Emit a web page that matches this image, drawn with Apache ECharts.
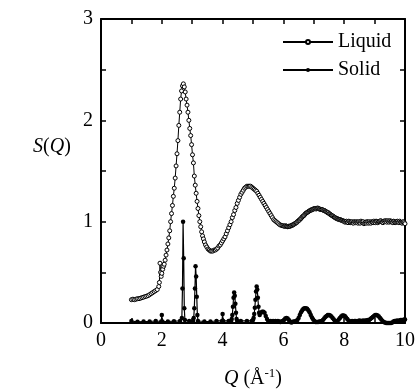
<!DOCTYPE html>
<html><head><meta charset="utf-8">
<script src="https://cdn.jsdelivr.net/npm/echarts@6/dist/echarts.min.js"></script>
<style>html,body{margin:0;padding:0;background:#fff}#c{width:420px;height:392px}</style>
</head><body><div id="c"></div>
<script>
const xTickLabels = [0, 2, 4, 6, 8, 10];
const yTickLabels = [0, 1, 2, 3];
const seriesNames = ['Liquid', 'Solid'];

const liquidPoints = [
[1.00,0.23],[1.05,0.235],[1.10,0.23],[1.15,0.235],[1.20,0.24],[1.25,0.24],[1.30,0.245],[1.35,0.25],[1.40,0.255],[1.45,0.26],
[1.50,0.265],[1.55,0.27],[1.60,0.28],[1.65,0.29],[1.70,0.30],[1.75,0.31],[1.80,0.32],[1.85,0.33],[1.90,0.36],[1.92,0.40],
[1.94,0.59],[1.96,0.50],[1.98,0.46],[2.00,0.49],[2.03,0.53],[2.06,0.56],[2.08,0.58],[2.11,0.62],[2.14,0.67],[2.17,0.72],
[2.20,0.78],[2.23,0.84],[2.26,0.91],[2.29,1.00],[2.32,1.08],[2.35,1.16],[2.38,1.25],[2.41,1.33],[2.44,1.43],[2.47,1.55],
[2.50,1.67],[2.53,1.80],[2.56,1.95],[2.59,2.08],[2.62,2.21],[2.65,2.29],[2.68,2.34],[2.71,2.36],[2.74,2.33],[2.77,2.28],
[2.80,2.21],[2.83,2.15],[2.86,2.08],[2.89,2.00],[2.92,1.92],[2.95,1.85],[2.98,1.76],[3.01,1.66],[3.04,1.58],[3.07,1.45],
[3.10,1.36],[3.13,1.28],[3.16,1.20],[3.19,1.13],[3.22,1.06],[3.25,1.00],[3.28,0.95],[3.31,0.90],[3.34,0.86],[3.37,0.83],
[3.40,0.80],[3.44,0.77],[3.48,0.75],[3.52,0.73],[3.56,0.72],[3.60,0.71],[3.64,0.71],[3.68,0.71],[3.72,0.72],[3.76,0.72],
[3.80,0.73],[3.84,0.74],[3.88,0.76],[3.92,0.77],[3.96,0.79],[4.00,0.81],[4.04,0.83],[4.08,0.85],[4.12,0.88],[4.16,0.91],
[4.20,0.94],[4.24,0.97],[4.28,1.00],[4.32,1.04],[4.36,1.07],[4.40,1.11],[4.44,1.14],[4.48,1.18],[4.52,1.21],[4.56,1.24],
[4.60,1.27],[4.64,1.29],[4.68,1.31],[4.72,1.33],[4.76,1.34],[4.80,1.35],[4.84,1.35],[4.88,1.35],[4.92,1.35],[4.96,1.34],
[5.00,1.33],[5.04,1.32],[5.08,1.31],[5.12,1.30],[5.16,1.28],[5.20,1.26],[5.24,1.24],[5.28,1.22],[5.32,1.20],[5.36,1.18],
[5.40,1.16],[5.44,1.14],[5.48,1.12],[5.52,1.10],[5.56,1.08],[5.60,1.06],[5.64,1.04],[5.68,1.02],[5.72,1.01],[5.76,1.00],
[5.80,0.99],[5.84,0.98],[5.88,0.97],[5.92,0.965],[5.96,0.96],[6.00,0.96],[6.05,0.955],[6.10,0.955],[6.15,0.95],[6.20,0.955],
[6.25,0.96],[6.30,0.965],[6.35,0.975],[6.40,0.985],[6.45,0.995],[6.50,1.01],[6.55,1.025],[6.60,1.04],[6.65,1.055],[6.70,1.07],
[6.75,1.085],[6.80,1.095],[6.85,1.105],[6.90,1.115],[6.95,1.12],[7.00,1.125],[7.05,1.13],[7.10,1.13],[7.15,1.13],[7.20,1.125],
[7.25,1.12],[7.30,1.115],[7.35,1.11],[7.40,1.10],[7.45,1.09],[7.50,1.08],[7.55,1.07],[7.60,1.06],[7.65,1.05],[7.70,1.04],
[7.75,1.03],[7.80,1.025],[7.85,1.02],[7.90,1.015],[7.95,1.01],[8.00,1.005],[8.05,1.00],[8.10,0.995],[8.15,1.005],[8.20,0.99],
[8.25,1.00],[8.30,0.985],[8.35,0.995],[8.40,1.00],[8.45,0.985],[8.50,0.99],[8.55,1.005],[8.60,0.99],[8.65,0.98],[8.70,0.995],
[8.75,1.00],[8.80,0.985],[8.85,0.99],[8.90,1.00],[8.95,0.99],[9.00,0.995],[9.05,1.005],[9.10,0.99],[9.15,1.00],[9.20,1.01],
[9.25,0.995],[9.30,1.005],[9.35,1.01],[9.40,0.995],[9.45,1.00],[9.50,1.01],[9.55,1.005],[9.60,0.99],[9.65,1.00],[9.70,0.995],
[9.75,1.005],[9.80,0.99],[9.85,0.995],[9.90,0.985],[9.95,1.00],[10.00,0.98]
];

// extra scattered liquid points in the noisy tail (read as a dense band)
const liquidTailPoints = [
[6.025,0.955],[6.075,0.96],[6.125,0.95],[6.175,0.955],[6.225,0.955],[6.275,0.965],[6.325,0.97],[6.375,0.98],[6.425,0.99],[6.475,1.005],
[6.525,1.015],[6.575,1.03],[6.625,1.05],[6.675,1.06],[6.725,1.08],[6.775,1.09],[6.825,1.10],[6.875,1.11],[6.925,1.115],[6.975,1.125],
[7.025,1.13],[7.075,1.125],[7.125,1.135],[7.175,1.125],[7.225,1.12],[7.275,1.12],[7.325,1.11],[7.375,1.105],[7.425,1.095],[7.475,1.09],
[7.525,1.075],[7.575,1.065],[7.625,1.055],[7.675,1.045],[7.725,1.035],[7.775,1.03],[7.825,1.02],[7.875,1.02],[7.925,1.01],[7.975,1.005],
[8.025,0.995],[8.075,1.005],[8.125,0.99],[8.175,1.00],[8.225,0.995],[8.275,0.99],[8.325,1.00],[8.375,0.99],[8.425,0.995],[8.475,1.00],
[8.525,0.985],[8.575,0.995],[8.625,1.00],[8.675,0.99],[8.725,0.985],[8.775,0.995],[8.825,1.00],[8.875,0.985],[8.925,0.995],[8.975,1.005],
[9.025,0.99],[9.075,1.00],[9.125,0.995],[9.175,1.005],[9.225,1.00],[9.275,0.99],[9.325,1.00],[9.375,1.005],[9.425,1.01],[9.475,0.995],
[9.525,1.00],[9.575,0.995],[9.625,1.005],[9.675,0.99],[9.725,1.00],[9.775,0.995],[9.825,1.005],[9.875,0.99],[9.925,0.995],[9.975,0.99]
];

const solidPoints = [
[1.00,0.02],[1.20,0.012],[1.40,0.015],[1.60,0.015],[1.80,0.02],[1.98,0.015],[2.00,0.08],[2.02,0.015],[2.20,0.015],[2.40,0.018],
[2.60,0.02],[2.66,0.05],[2.68,0.34],[2.70,1.00],[2.72,0.64],[2.74,0.145],[2.76,0.03],[2.90,0.02],[3.03,0.02],[3.05,0.05],
[3.07,0.145],[3.09,0.34],[3.11,0.56],[3.13,0.46],[3.15,0.26],[3.17,0.08],[3.19,0.02],[3.40,0.015],[3.60,0.015],[3.80,0.02],
[3.98,0.02],[4.00,0.09],[4.02,0.02],[4.20,0.02],[4.28,0.02],[4.30,0.04],[4.32,0.08],[4.34,0.16],[4.36,0.25],[4.38,0.30],
[4.40,0.27],[4.42,0.19],[4.44,0.10],[4.46,0.04],[4.48,0.02],[4.60,0.02],[4.80,0.02],[4.96,0.02],[5.00,0.03],[5.02,0.05],
[5.04,0.09],[5.06,0.15],[5.08,0.23],[5.10,0.31],[5.12,0.36],[5.14,0.33],[5.16,0.25],[5.18,0.16],[5.20,0.10],[5.22,0.08],
[5.26,0.10],[5.30,0.11],[5.34,0.11],[5.38,0.10],[5.42,0.07],[5.46,0.04],[5.50,0.02],[5.54,0.015],[5.58,0.02],[5.62,0.015],
[5.66,0.02],[5.70,0.015],[5.74,0.02],[5.78,0.015],[5.82,0.02],[5.86,0.015],[5.90,0.01],[5.94,0.015],[5.98,0.02],[6.02,0.03],
[6.06,0.045],[6.10,0.05],[6.14,0.045],[6.18,0.03],[6.22,0.015],[6.26,0.005],[6.30,0.01],[6.34,0.015],[6.38,0.015],[6.42,0.02],
[6.46,0.03],[6.50,0.05],[6.54,0.08],[6.58,0.105],[6.62,0.125],[6.66,0.14],[6.70,0.145],[6.74,0.145],[6.78,0.14],[6.82,0.125],
[6.86,0.105],[6.90,0.08],[6.94,0.055],[6.98,0.035],[7.02,0.02],[7.06,0.01],[7.10,0.01],[7.14,0.01],[7.18,0.015],[7.22,0.015],
[7.26,0.02],[7.30,0.03],[7.34,0.045],[7.38,0.06],[7.42,0.07],[7.46,0.08],[7.50,0.08],[7.54,0.075],[7.58,0.065],[7.62,0.05],
[7.66,0.035],[7.70,0.02],[7.74,0.015],[7.78,0.02],[7.82,0.035],[7.86,0.05],[7.90,0.065],[7.94,0.075],[7.98,0.075],[8.02,0.07],
[8.06,0.055],[8.10,0.04],[8.14,0.025],[8.18,0.015],[8.22,0.015],[8.26,0.02],[8.30,0.015],[8.34,0.02],[8.38,0.02],[8.42,0.015],
[8.46,0.02],[8.50,0.025],[8.54,0.02],[8.58,0.02],[8.62,0.025],[8.66,0.02],[8.70,0.025],[8.74,0.025],[8.78,0.03],[8.82,0.03],
[8.86,0.04],[8.90,0.05],[8.94,0.06],[8.98,0.07],[9.02,0.08],[9.06,0.08],[9.10,0.075],[9.14,0.065],[9.18,0.05],[9.22,0.035],
[9.26,0.02],[9.30,0.01],[9.34,0.005],[9.38,0.0],[9.42,0.0],[9.46,0.0],[9.50,0.0],[9.54,0.0],[9.58,0.005],[9.62,0.015],
[9.66,0.02],[9.70,0.02],[9.74,0.025],[9.78,0.02],[9.82,0.025],[9.86,0.03],[9.90,0.03],[9.94,0.03],[9.98,0.035],[10.00,0.035]
];

const liquidData = liquidPoints.concat(liquidTailPoints).sort(function (a, b) { return a[0] - b[0]; });

const FONT = '"Liberation Serif", "Times New Roman", serif';
const chart = echarts.init(document.getElementById('c'), null, {renderer: 'canvas'});

function frameAxis(pos, isX, showLabel) {
  return {
    type: 'value',
    position: pos,
    min: 0,
    max: isX ? 10 : 3,
    interval: isX ? 1 : 0.5,
    axisLine: {show: true, onZero: false, lineStyle: {color: '#000', width: 2}},
    axisTick: {show: true, inside: true, length: 5, lineStyle: {color: '#000', width: 1.5}},
    splitLine: {show: false},
    axisLabel: {
      show: showLabel,
      color: '#000',
      fontSize: 20,
      fontFamily: FONT,
      margin: 8,
      formatter: function (v) {
        const list = isX ? xTickLabels : yTickLabels;
        return list.indexOf(v) >= 0 ? String(v) : '';
      }
    }
  };
}

chart.setOption({
  animation: false,
  backgroundColor: '#fff',
  grid: {left: 101, right: 15, top: 19, bottom: 69, containLabel: false},
  xAxis: [frameAxis('bottom', true, true), frameAxis('top', true, false)],
  yAxis: [frameAxis('left', false, true), frameAxis('right', false, false)],
  legend: {
    orient: 'vertical',
    left: 277,
    top: 27,
    itemWidth: 50,
    itemHeight: 5,
    itemGap: 8,
    data: seriesNames,
    textStyle: {color: '#000', fontSize: 20, fontFamily: FONT, lineHeight: 20}
  },
  graphic: [
    {
      type: 'text', x: 52, y: 147,
      style: {
        text: '{i|S}({i|Q})',
        textAlign: 'center', textVerticalAlign: 'middle',
        fill: '#000', font: '20px ' + FONT,
        rich: {i: {fontStyle: 'italic', fontSize: 20, fontFamily: FONT, fill: '#000'}}
      }
    },
    {
      type: 'text', x: 253, y: 379,
      style: {
        text: '{i|Q} (Å{sup|-1})',
        textAlign: 'center', textVerticalAlign: 'middle',
        fill: '#000', font: '20px ' + FONT,
        rich: {
          i: {fontStyle: 'italic', fontSize: 20, fontFamily: FONT, fill: '#000'},
          sup: {fontSize: 13, fontFamily: FONT, fill: '#000', padding: [0, 0, 10, 0]}
        }
      }
    }
  ],
  series: [
    {
      name: seriesNames[0], type: 'line', data: liquidData,
      xAxisIndex: 0, yAxisIndex: 0,
      symbol: 'circle', symbolSize: 4, showAllSymbol: true,
      lineStyle: {color: '#000', width: 1},
      itemStyle: {color: '#fff', borderColor: '#000', borderWidth: 1},
      clip: true, z: 3
    },
    {
      name: seriesNames[1], type: 'line', data: solidPoints,
      xAxisIndex: 0, yAxisIndex: 0,
      symbol: 'circle', symbolSize: 4.5, showAllSymbol: true,
      lineStyle: {color: '#000', width: 1.2},
      itemStyle: {color: '#000', borderColor: '#000', borderWidth: 0},
      clip: true, z: 2
    }
  ]
});
</script>
</body></html>
